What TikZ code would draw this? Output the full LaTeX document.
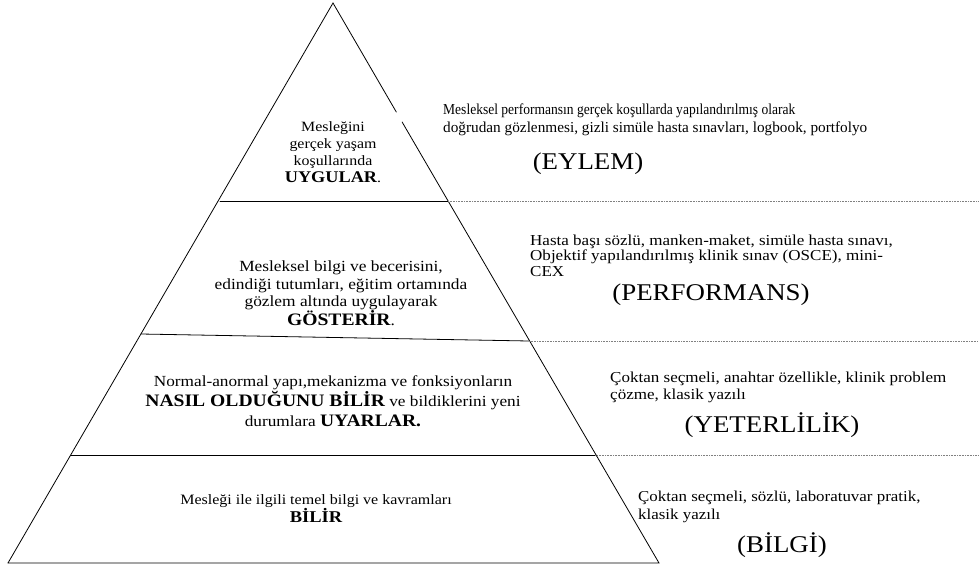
\documentclass[tikz,border=0pt]{standalone}
\usepackage{fontspec}
\usepackage{graphicx}
\setmainfont{Liberation Serif}[FakeStretch=1.12]
\begin{document}
\begin{tikzpicture}[x=1pt,y=-1pt,
  edge/.style={line width=0.8pt, line cap=round},
  dotline/.style={gray, line width=0.6pt, dash pattern=on 0.8pt off 0.8pt},
  boxtxt/.style={align=center, inner sep=0pt},
  desc/.style={align=left, anchor=west, inner sep=0pt},
  lvl/.style={inner sep=0pt, font=\fontsize{24}{28}\selectfont}]
\useasboundingbox (0,0) rectangle (980,576);
% pyramid corners
\coordinate (apex) at (333,3);
\coordinate (bl) at (8,563);
\coordinate (br) at (659,563);
\coordinate (rg1) at (396.3,112);
\coordinate (rg2) at (402.1,122);
% level lines
\coordinate (l1a) at (220,201);
\coordinate (l1b) at (448,201);
\coordinate (l1e) at (978,201);
\coordinate (l2a) at (141,334);
\coordinate (l2b) at (529,341);
\coordinate (l2e) at (978,341);
\coordinate (l3a) at (70.7,455);
\coordinate (l3b) at (595.3,455);
\coordinate (l3e) at (978,455);
% outline
\draw[edge] (bl) -- (apex) -- (rg1);
\draw[edge] (rg2) -- (br) -- (bl);
\draw[edge] (l1a) -- (l1b);
\draw[edge] (l2a) -- (l2b);
\draw[edge] (l3a) -- (l3b);
\draw[dotline] (l1b) -- (l1e);
\draw[dotline] (l2b) -- (l2e);
\draw[dotline] (l3b) -- (l3e);
% pyramid texts
\node[boxtxt, font=\fontsize{14.2}{17}\selectfont] (t1) at (333,152.5)
  {Mesleğini\\gerçek yaşam\\koşullarında\\{\fontsize{16.3}{17}\selectfont\bfseries UYGULAR}.};
\node[boxtxt, font=\fontsize{15.5}{17.5}\selectfont] (t2) at (341,293.5)
  {Mesleksel bilgi ve becerisini,\\edindiği tutumları, eğitim ortamında\\gözlem altında uygulayarak\\{\fontsize{17.5}{17.5}\selectfont\bfseries GÖSTERİR}.};
\node[boxtxt, font=\fontsize{15.4}{20}\selectfont] (t3) at (333,401)
  {Normal-anormal yapı,mekanizma ve fonksiyonların\\{\fontsize{17.5}{20}\selectfont\bfseries NASIL OLDUĞUNU BİLİR} ve bildiklerini yeni\\durumlara {\fontsize{17.5}{20}\selectfont\bfseries UYARLAR.}};
\node[boxtxt, font=\fontsize{14.3}{18}\selectfont] (t4) at (316,509)
  {Mesleği ile ilgili temel bilgi ve kavramları\\{\fontsize{16.5}{18}\selectfont\bfseries BİLİR}};
% descriptions
\node[desc, font=\fontsize{15.2}{18}\selectfont] (d1) at (443,120)
  {\scalebox{0.795}[1]{Mesleksel performansın gerçek koşullarda yapılandırılmış olarak}\\
   \scalebox{0.897}[1]{doğrudan gözlenmesi, gizli simüle hasta sınavları, logbook, portfolyo}};
\node[desc, font=\fontsize{15.2}{15.5}\selectfont] (d2) at (530,255.5)
  {Hasta başı sözlü, manken-maket, simüle hasta sınavı,\\Objektif yapılandırılmış klinik sınav (OSCE), mini-\\CEX};
\node[desc, font=\fontsize{15.2}{17}\selectfont] (d3) at (610,387.5)
  {Çoktan seçmeli, anahtar özellikle, klinik problem\\çözme, klasik yazılı};
\node[desc, font=\fontsize{15.1}{18}\selectfont] (d4) at (638,507)
  {Çoktan seçmeli, sözlü, laboratuvar pratik,\\klasik yazılı};
% level labels
\node[lvl] (n1) at (588,164) {(EYLEM)};
\node[lvl] (n2) at (711,295) {(PERFORMANS)};
\node[lvl] (n3) at (772,425) {(YETERLİLİK)};
\node[lvl] (n4) at (782,545) {(BİLGİ)};
\end{tikzpicture}
\end{document}
